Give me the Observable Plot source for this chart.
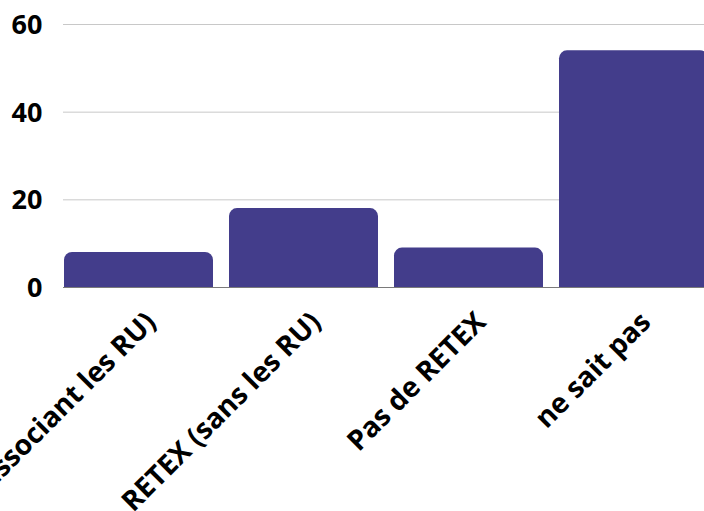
<!DOCTYPE html>
<html>
<head>
<meta charset="utf-8">
<script src="https://cdn.jsdelivr.net/npm/d3@7"></script>
<script src="https://cdn.jsdelivr.net/npm/@observablehq/plot@0.6"></script>
<style>
  html, body { margin: 0; padding: 0; background: #fff; }
  #chart { width: 704px; height: 511px; overflow: hidden; }
</style>
</head>
<body>
<div id="chart"></div>
<script>
// Réponses : retour d'expérience (RETEX)
const categories = [
  "RETEX (associant les RU)",
  "RETEX (sans les RU)",
  "Pas de RETEX",
  "ne sait pas"
];
const counts = [8, 18, 9, 54];
const yTicks = [0, 20, 40, 60];

const data = categories.map((label, i) => ({label, count: counts[i]}));

const chart = Plot.plot({
  width: 704,
  height: 511,
  marginTop: 24,
  marginBottom: 224,
  marginLeft: 63,
  marginRight: -5,
  style: {fontFamily: "'Open Sans', sans-serif", fontSize: "27px", fontWeight: 700, color: "#000", background: "#fff"},
  x: {domain: categories, paddingInner: 0.1, paddingOuter: 0, label: null},
  y: {domain: [0, 60], ticks: yTicks, label: null},
  marks: [
    Plot.gridY(yTicks, {stroke: "#c8c8c8", strokeOpacity: 1}),
    Plot.ruleY([0], {stroke: "#7a7a7a"}),
    Plot.barY(data, {x: "label", y: "count", fill: "#433d8b", ry1: 8}),
    Plot.axisY({ticks: yTicks, tickSize: 0, tickPadding: 21, fontSize: 27, fontWeight: 700, label: null, dy: 1}),
    Plot.axisX({tickSize: 0, tickRotate: -45, tickPadding: 30, fontSize: 28, fontWeight: 700, label: null, dx: 12})
  ]
});
document.getElementById("chart").appendChild(chart);
</script>
</body>
</html>
